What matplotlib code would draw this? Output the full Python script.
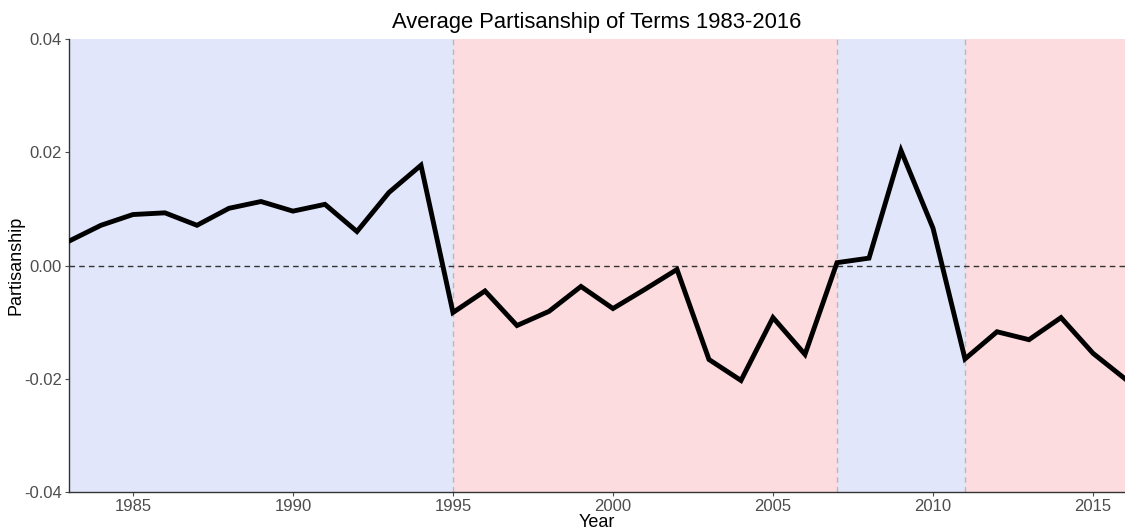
import matplotlib
matplotlib.use('Agg')
import matplotlib.pyplot as plt

plt.rcParams['font.family'] = ['Liberation Sans', 'DejaVu Sans']

years = list(range(1983, 2017))
partisanship = [0.0043, 0.0071, 0.0090, 0.0093, 0.0071, 0.0101, 0.0113, 0.0096,
                0.0108, 0.0060, 0.0129, 0.0177, -0.0083, -0.0045, -0.0106, -0.0081,
                -0.0037, -0.0076, -0.0042, -0.0007, -0.0166, -0.0203, -0.0092, -0.0157,
                0.0005, 0.0013, 0.0203, 0.0066, -0.0165, -0.0117, -0.0131, -0.0092,
                -0.0155, -0.0200]

# presidential terms: (start, end, party)
terms = [(1983, 1995, 'D'), (1995, 2007, 'R'), (2007, 2011, 'D'), (2011, 2016, 'R')]
term_colors = {'D': '#e1e6fa', 'R': '#fcdcdf'}
breaks = [1995, 2007, 2011]

fig = plt.figure(figsize=(11.25, 5.31), dpi=100)
ax = fig.add_axes([0.0613, 0.0734, 0.9387, 0.8532])

for start, end, party in terms:
    ax.axvspan(start, end, color=term_colors[party], lw=0, zorder=0)
for b in breaks:
    ax.axvline(b, color='#b8b8b8', ls=(0, (4, 3)), lw=1, zorder=1)
ax.axhline(0, color='#333333', ls=(0, (4, 3)), lw=1, zorder=2)

ax.plot(years, partisanship, color='black', lw=3.5, zorder=3, solid_joinstyle='miter')

ax.set_xlim(1983, 2016)
ax.set_ylim(-0.04, 0.04)
ax.set_xticks([1985, 1990, 1995, 2000, 2005, 2010, 2015])
ax.set_yticks([-0.04, -0.02, 0.0, 0.02, 0.04])
ax.set_yticklabels(['-0.04', '-0.02', '0.00', '0.02', '0.04'])
ax.tick_params(colors='#4d4d4d', labelsize=12, length=3, width=0.8, pad=2)

for s in ['top', 'right']:
    ax.spines[s].set_visible(False)
for s in ['left', 'bottom']:
    ax.spines[s].set_color('#333333')
    ax.spines[s].set_linewidth(1)

ax.set_xlabel('Year', fontsize=13, labelpad=0)
ax.set_ylabel('Partisanship', fontsize=13)
ax.yaxis.set_label_coords(-0.042, 0.5)
ax.set_title('Average Partisanship of Terms 1983-2016', fontsize=15.8, pad=8)

fig.savefig('out.png', dpi=100)
